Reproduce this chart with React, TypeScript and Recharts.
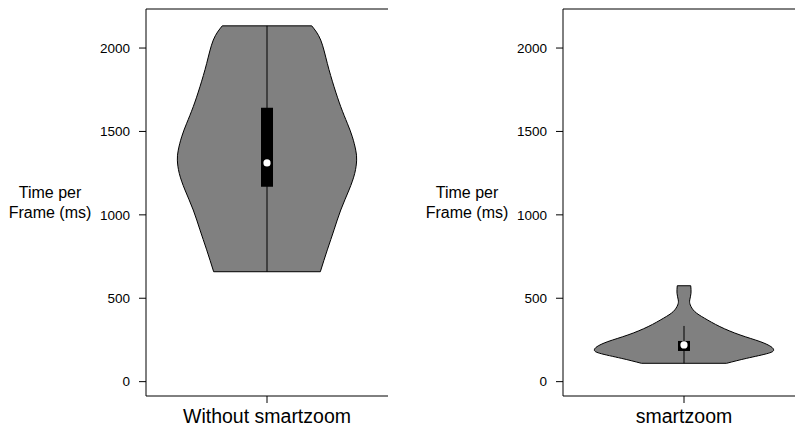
import React from 'react';
import {
  ComposedChart,
  Area,
  XAxis,
  YAxis,
  ReferenceLine,
  ReferenceArea,
  ReferenceDot,
} from 'recharts';

// ---- data ----
const groupLabels = ['Without smartzoom', 'smartzoom'];
const yTicks = [0, 500, 1000, 1500, 2000];
const yLimits = [-86, 2234];

// violin outline: value (ms) and relative half-width (density)
const withoutValues = [2133, 2048, 1908, 1768, 1648, 1549, 1468, 1388, 1328, 1249, 1149, 1029, 910, 790, 659];
const withoutWidths = [0.499, 0.599, 0.673, 0.748, 0.823, 0.896, 0.952, 0.99, 1.0, 0.979, 0.915, 0.823, 0.748, 0.673, 0.595];

const smartValues = [575, 530, 490, 460, 420, 380, 330, 280, 240, 210, 190, 170, 140, 110];
const smartWidths = [0.075, 0.078, 0.064, 0.07, 0.12, 0.23, 0.4, 0.625, 0.85, 0.97, 1.0, 0.94, 0.7, 0.475];

// box plot statistics per group
const medians = [1311, 220];
const q1s = [1169, 184];
const q3s = [1642, 244];
const whiskerLows = [659, 110];
const whiskerHighs = [2133, 334];

// ---- styles ----
const FONT = '"Liberation Sans", Arial, Helvetica, sans-serif';
const X_DOMAIN = [-1.35, 1.35];
const BOX_HALF = 0.067;

const buildRows = (values: number[], widths: number[]) =>
  values.map((v, i) => ({ v, range: [-widths[i], widths[i]] }));

const YLabel = (props: any) => {
  const vb = props.viewBox || { x: 0, y: 9, width: 146, height: 387 };
  const cx = vb.x + vb.width - 96;
  const cy = vb.y + vb.height / 2;
  return (
    <text x={cx} y={cy} textAnchor="middle" fontSize={16} fill="#000" fontFamily={FONT}>
      <tspan x={cx} dy={-4.5}>Time per</tspan>
      <tspan x={cx} dy={20}>Frame (ms)</tspan>
    </text>
  );
};

type PanelProps = {
  idx: number;
  values: number[];
  widths: number[];
  width: number;
  axisWidth: number;
  rightMargin: number;
};

const Panel = ({ idx, values, widths, width, axisWidth, rightMargin }: PanelProps) => {
  const rows = buildRows(values, widths);
  const first = rows[0];
  const last = rows[rows.length - 1];
  return (
    <ComposedChart
      layout="vertical"
      width={width}
      height={429}
      data={rows}
      margin={{ top: 8, right: rightMargin, bottom: 0, left: 0 }}
    >
      <XAxis
        type="number"
        domain={X_DOMAIN}
        ticks={[0]}
        interval={0}
        allowDataOverflow
        tickFormatter={() => groupLabels[idx]}
        height={33}
        tickSize={7}
        tickMargin={6}
        axisLine={{ stroke: '#000' }}
        tickLine={{ stroke: '#000' }}
        tick={{ fontSize: 19.5, fill: '#000', fontFamily: FONT }}
      />
      <XAxis
        xAxisId="top"
        orientation="top"
        type="number"
        domain={X_DOMAIN}
        height={1}
        tick={false}
        tickLine={false}
        axisLine={{ stroke: '#000' }}
      />
      <YAxis
        type="number"
        dataKey="v"
        domain={yLimits}
        reversed
        ticks={yTicks}
        interval={0}
        allowDataOverflow
        width={axisWidth}
        tickSize={7}
        tickMargin={9}
        axisLine={{ stroke: '#000' }}
        tickLine={{ stroke: '#000' }}
        tick={{ fontSize: 13.5, fill: '#000', fontFamily: FONT }}
        label={{ content: <YLabel /> }}
      />
      <YAxis
        yAxisId="right"
        orientation="right"
        type="number"
        domain={yLimits}
        reversed
        width={0}
        tick={false}
        tickLine={false}
        axisLine={{ stroke: '#000' }}
      />
      <Area
        dataKey="range"
        type="natural"
        fill="#808080"
        fillOpacity={1}
        stroke="#000"
        strokeWidth={1}
        dot={false}
        activeDot={false}
        isAnimationActive={false}
      />
      <ReferenceLine
        segment={[{ x: first.range[0], y: first.v }, { x: first.range[1], y: first.v }]}
        stroke="#000"
        strokeWidth={1}
      />
      <ReferenceLine
        segment={[{ x: last.range[0], y: last.v }, { x: last.range[1], y: last.v }]}
        stroke="#000"
        strokeWidth={1}
      />
      <ReferenceLine
        segment={[{ x: 0, y: whiskerLows[idx] }, { x: 0, y: whiskerHighs[idx] }]}
        stroke="#000"
        strokeWidth={1}
      />
      <ReferenceArea
        x1={-BOX_HALF}
        x2={BOX_HALF}
        y1={q1s[idx]}
        y2={q3s[idx]}
        fill="#000"
        fillOpacity={1}
        stroke="none"
      />
      <ReferenceDot x={0} y={medians[idx]} r={3.6} fill="#fff" stroke="none" />
    </ComposedChart>
  );
};

export default function App() {
  return (
    <div
      style={{
        position: 'absolute',
        left: 0,
        top: 0,
        width: 795,
        height: 429,
        overflow: 'hidden',
        background: '#fff',
        fontFamily: FONT,
      }}
    >
      <div style={{ position: 'absolute', left: 0, top: 0 }}>
        <Panel idx={0} values={withoutValues} widths={withoutWidths} width={400} axisWidth={146} rightMargin={12} />
      </div>
      <div style={{ position: 'absolute', left: 400, top: 0 }}>
        <Panel idx={1} values={smartValues} widths={smartWidths} width={405} axisWidth={163} rightMargin={0} />
      </div>
    </div>
  );
}
